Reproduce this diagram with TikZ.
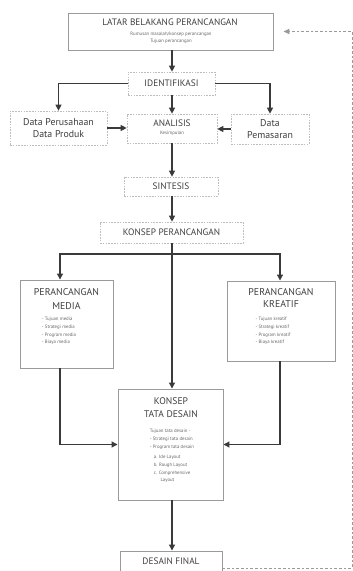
\documentclass[tikz,border=0pt]{standalone}
\usepackage{fontspec}
\setmainfont{PT Sans}
\usetikzlibrary{arrows.meta}
\definecolor{boxgray}{HTML}{9A9A9A}
\definecolor{linegray}{HTML}{3A3A3A}
\tikzset{
  solidbox/.style={draw=boxgray, line width=0.7pt, inner sep=0pt},
  dotbox/.style={draw=boxgray!65, dash pattern=on 1.2pt off 0.9pt, line width=0.5pt, inner sep=0pt},
  arr/.style={draw=linegray, line width=0.9pt, -{Triangle[length=4.5pt,width=4.5pt]}},
  plain/.style={draw=linegray, line width=0.9pt},
  feedback/.style={draw=boxgray, dash pattern=on 2pt off 1.5pt, line width=0.6pt, -{Triangle[length=4.5pt,width=4pt]}},
  titletxt/.style={font=\fontsize{7}{9}\selectfont, text=black!75, align=center, inner sep=0pt},
  smalltxt/.style={font=\fontsize{3.6}{5.8}\selectfont, text=black!60, align=left, inner sep=0pt},
  subtxt/.style={font=\fontsize{3.6}{5.6}\selectfont, text=black!60, align=center, inner sep=0pt},
}
\begin{document}
\begin{tikzpicture}[x=0.75pt,y=-0.75pt]
\clip (0,0) rectangle (353,571);
\fill[white] (0,0) rectangle (353,571);
% helper lines
\coordinate (spine) at (172,0);
\coordinate (mediax) at (60,0);
\coordinate (kreatifx) at (280,0);
\coordinate (split2) at (0,254);
\coordinate (loopx) at (352,0);
% boxes
\node[solidbox, minimum width=153.75pt, minimum height=27.75pt] (latar) at (170.5,31.5) {};
\node[titletxt] (latartitle) at (170,22) {LATAR BELAKANG PERANCANGAN};
\node[subtxt] (latarsub) at (171,38) {Rumusan masalah/konsep perancangan\\Tujuan perancangan};
\node[dotbox, titletxt, minimum width=65.25pt, minimum height=17.25pt] (identifikasi) at (171.5,83.5) {IDENTIFIKASI};
\node[dotbox, titletxt, font=\fontsize{7.4}{9.6}\selectfont, minimum width=72.75pt, minimum height=25.5pt] (perusahaan) at (58.5,128)
  {Data Perusahaan\\Data Produk};
\node[dotbox, minimum width=67.5pt, minimum height=21.75pt] (analisis) at (172,128.5) {};
\node[titletxt] (analisistitle) at (172,123) {ANALISIS};
\node[subtxt] (analisissub) at (172,133) {Kesimpulan};
\node[dotbox, titletxt, font=\fontsize{7.4}{9.6}\selectfont, minimum width=58.5pt, minimum height=22.5pt] (pemasaran) at (270,129)
  {Data\\Pemasaran};
\node[dotbox, titletxt, minimum width=70.5pt, minimum height=14.25pt] (sintesis) at (171,186.5) {SINTESIS};
\node[dotbox, titletxt, minimum width=107.25pt, minimum height=15.75pt] (konsep) at (171.5,232.5) {KONSEP PERANCANGAN};
\node[solidbox, minimum width=69.75pt, minimum height=66pt] (media) at (66.5,324) {};
\node[titletxt, anchor=north, font=\fontsize{7.4}{10.5}\selectfont] (mediatitle) at (66.5,288) {PERANCANGAN\\MEDIA};
\node[smalltxt, anchor=north] (medialist) at (59,317) {- Tujuan media\\- Strategi media\\- Program media\\- Biaya media};
\node[solidbox, minimum width=81pt, minimum height=60pt] (kreatif) at (281,321) {};
\node[titletxt, anchor=north, font=\fontsize{7.4}{9}\selectfont] (kreatiftitle) at (281,288) {PERANCANGAN\\KREATIF};
\node[smalltxt, anchor=north] (kreatiflist) at (273,317) {- Tujuan kreatif\\- Strategi kreatif\\- Program kreatif\\- Biaya kreatif};
\node[solidbox, minimum width=78.75pt, minimum height=83.25pt] (tatadesain) at (170.5,444.5) {};
\node[titletxt, anchor=north, font=\fontsize{7.2}{9.8}\selectfont] (tatatitle) at (171,397) {KONSEP\\TATA DESAIN};
\node[smalltxt, anchor=north] (tatalist) at (172,429)
  {Tujuan tata desain -\\- Strategi tata desain\\- Program tata desain\\[2pt]
   \hspace{3pt}a. Ide Layout\\\hspace{3pt}b. Rough Layout\\\hspace{3pt}c. Comprehensive\\\hspace{8pt}Layout};
\node[solidbox, minimum width=76.5pt, minimum height=25.5pt] (desainfinal) at (171,568) {};
\node[titletxt] (finaltitle) at (171,561) {DESAIN FINAL};
% connectors
\draw[arr] (latar.south -| spine) -- (identifikasi.north -| spine);
\draw[arr] (identifikasi.south -| spine) -- (analisis.north -| spine);
\draw[arr] (identifikasi.west) -| (perusahaan.north);
\draw[arr] (identifikasi.east) -| (pemasaran.north);
\draw[arr] (perusahaan.east) -- (analisis.west |- perusahaan.east);
\draw[arr] (pemasaran.west) -- (analisis.east |- pemasaran.west);
\draw[arr] (analisis.south -| spine) -- (sintesis.north -| spine);
\draw[arr] (sintesis.south -| spine) -- (konsep.north -| spine);
\draw[plain] (konsep.south -| spine) -- (spine |- split2);
\draw[arr] (spine |- split2) -| (media.north -| mediax);
\draw[arr] (spine |- split2) -| (kreatif.north -| kreatifx);
\draw[arr] (konsep.south -| spine) -- (tatadesain.north -| spine);
\draw[arr] (media.south -| mediax) |- (tatadesain.west);
\draw[arr] (kreatif.south -| kreatifx) |- (tatadesain.east);
\draw[arr] (tatadesain.south -| spine) -- (desainfinal.north -| spine);
\draw[feedback] (desainfinal.east) -| (loopx |- latar.east) -- ([xshift=7.5pt]latar.east);
\end{tikzpicture}
\end{document}
